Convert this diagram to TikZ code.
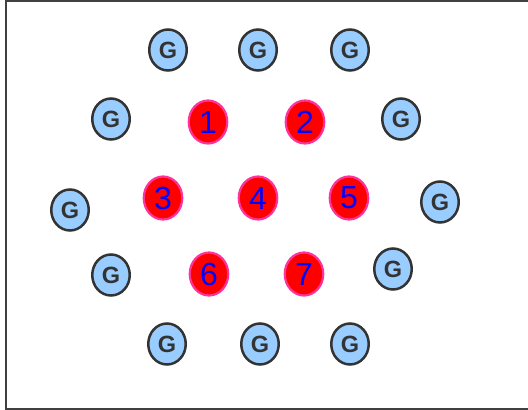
\documentclass[tikz,border=0pt]{standalone}
\usepackage{fontspec}
\setmainfont{Liberation Sans}
\usetikzlibrary{shapes.geometric}
\definecolor{gfill}{HTML}{99CCFF}
\definecolor{gline}{HTML}{333333}
\definecolor{rline}{HTML}{FF3399}
\definecolor{frame}{HTML}{404040}
\tikzset{
  gnode/.style={ellipse, draw=gline, fill=gfill, line width=2.5pt, minimum width=37.5pt, minimum height=41pt, inner sep=0pt, text=gline, font=\fontsize{23.5}{23.5}\selectfont\bfseries},
  rnode/.style={ellipse, draw=rline, fill=red, line width=2.2pt, minimum width=38.5pt, minimum height=43pt, inner sep=0pt, text=blue, font=\fontsize{32}{32}\selectfont},
}
\begin{document}
\begin{tikzpicture}[x=1pt,y=-1pt]
\useasboundingbox (0,0) rectangle (528,410);
\begin{scope}
\clip (0,0) rectangle (528,410);
\draw[frame, line width=2pt] (6,1) rectangle (531,408.5);
\end{scope}
% blue G nodes
\node[gnode] (g1) at (168,50) {G};
\node[gnode] (g2) at (258,50) {G};
\node[gnode] (g3) at (350,50) {G};
\node[gnode] (g4) at (111,119) {G};
\node[gnode] (g5) at (401,119) {G};
\node[gnode] (g6) at (70,210) {G};
\node[gnode] (g7) at (440,202) {G};
\node[gnode] (g8) at (111,275) {G};
\node[gnode] (g9) at (393,269) {G};
\node[gnode] (g10) at (167,344) {G};
\node[gnode] (g11) at (260,344) {G};
\node[gnode] (g12) at (350,344) {G};
% red numbered nodes
\node[rnode] (r1) at (208,122) {1};
\node[rnode] (r2) at (305,122) {2};
\node[rnode] (r3) at (163,198) {3};
\node[rnode] (r4) at (258,198) {4};
\node[rnode] (r5) at (349,198) {5};
\node[rnode] (r6) at (209,274) {6};
\node[rnode] (r7) at (304,274) {7};
\end{tikzpicture}
\end{document}
